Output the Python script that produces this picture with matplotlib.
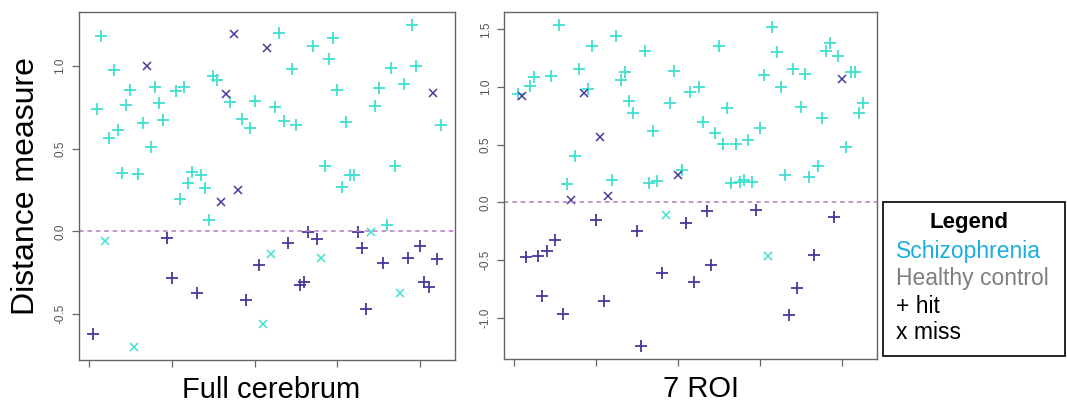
import matplotlib
matplotlib.use('Agg')
import matplotlib.pyplot as plt
from matplotlib.patches import Rectangle
import numpy as np

plt.rcParams['font.family'] = ['Liberation Sans', 'DejaVu Sans']
plt.rcParams['axes.unicode_minus'] = False

############# data #############
# full cerebrum, subjects 1..85
full_vals = [-0.622, 0.74, 1.18, -0.061, 0.567, 0.974, 0.615, 0.353, 0.766, 0.857,
             -0.70, 0.349, 0.657, 1.0, 0.51, 0.875, 0.776, 0.673, -0.039, -0.28,
             0.847, 0.196, 0.875, 0.29, 0.36, -0.374, 0.34, 0.26, 0.069, 0.937,
             0.913, 0.18, 0.83, 0.78, 1.19, 0.25, 0.68, -0.415, 0.627, 0.786,
             -0.203, -0.561, 1.107, -0.14, 0.752, 1.196, 0.667, -0.073, 0.984, 0.645,
             -0.323, -0.309, -0.002, 1.12, -0.047, -0.163, 0.397, 1.04, 1.17, 0.853,
             0.268, 0.66, 0.34, 0.34, -0.002, -0.10, -0.47, -0.002, 0.756, 0.867,
             -0.19, 0.037, 0.99, 0.397, -0.374, 0.889, -0.16, 1.248, 1.0, -0.089,
             -0.307, -0.337, 0.839, -0.165, 0.645]
full_group = ['C', 'S', 'S', 'S', 'S', 'S', 'S', 'S', 'S', 'S',
              'S', 'S', 'S', 'C', 'S', 'S', 'S', 'S', 'C', 'C',
              'S', 'S', 'S', 'S', 'S', 'C', 'S', 'S', 'S', 'S',
              'S', 'C', 'C', 'S', 'C', 'C', 'S', 'C', 'S', 'S',
              'C', 'S', 'C', 'S', 'S', 'S', 'S', 'C', 'S', 'S',
              'C', 'C', 'C', 'S', 'C', 'S', 'S', 'S', 'S', 'S',
              'S', 'S', 'S', 'S', 'C', 'C', 'C', 'S', 'S', 'S',
              'C', 'S', 'S', 'S', 'S', 'S', 'C', 'S', 'S', 'C',
              'C', 'C', 'C', 'C', 'S']
full_hit = [1, 1, 1, 0, 1, 1, 1, 1, 1, 1,
            0, 1, 1, 0, 1, 1, 1, 1, 1, 1,
            1, 1, 1, 1, 1, 1, 1, 1, 1, 1,
            1, 0, 0, 1, 0, 0, 1, 1, 1, 1,
            1, 0, 0, 0, 1, 1, 1, 1, 1, 1,
            1, 1, 1, 1, 1, 0, 1, 1, 1, 1,
            1, 1, 1, 1, 1, 1, 1, 0, 1, 1,
            1, 1, 1, 1, 0, 1, 1, 1, 1, 1,
            1, 1, 0, 1, 1]

# 7 ROI, subjects 1..85
roi_vals = [0.944, 0.924, -0.471, 1.014, 1.092, -0.465, -0.808, -0.419, 1.10, -0.328,
            1.54, -0.968, 0.159, 0.02, 0.405, 1.156, 0.947, 0.985, 1.361, -0.151,
            0.565, -0.852, 0.052, 0.191, 1.442, 1.066, 1.135, 0.88, 0.776, -0.25,
            -1.25, 1.309, 0.171, 0.617, 0.182, -0.613, -0.11, 0.866, 1.138, 0.235,
            0.284, -0.177, 0.959, -0.692, 1.005, 0.695, -0.078, -0.544, 0.602, 1.361,
            0.504, 0.822, 0.168, 0.51, 0.177, 0.197, 0.539, 0.18, -0.064, 0.646,
            1.106, -0.468, 1.523, 1.306, 0.999, 0.235, -0.974, 1.153, -0.747, 0.831,
            1.118, 0.22, -0.456, 0.313, 0.733, 1.309, 1.384, -0.128, 1.266, 1.074,
            0.484, 1.127, 1.127, 0.776, 0.863]
roi_group = ['S', 'C', 'C', 'S', 'S', 'C', 'C', 'C', 'S', 'C',
             'S', 'C', 'S', 'C', 'S', 'S', 'C', 'S', 'S', 'C',
             'C', 'C', 'C', 'S', 'S', 'S', 'S', 'S', 'S', 'C',
             'C', 'S', 'S', 'S', 'S', 'C', 'S', 'S', 'S', 'C',
             'S', 'C', 'S', 'C', 'S', 'S', 'C', 'C', 'S', 'S',
             'S', 'S', 'S', 'S', 'S', 'S', 'S', 'S', 'C', 'S',
             'S', 'S', 'S', 'S', 'S', 'S', 'C', 'S', 'C', 'S',
             'S', 'S', 'C', 'S', 'S', 'S', 'S', 'C', 'S', 'C',
             'S', 'S', 'S', 'S', 'S']
roi_hit = [1, 0, 1, 1, 1, 1, 1, 1, 1, 1,
           1, 1, 1, 0, 1, 1, 0, 1, 1, 1,
           0, 1, 0, 1, 1, 1, 1, 1, 1, 1,
           1, 1, 1, 1, 1, 1, 0, 1, 1, 0,
           1, 1, 1, 1, 1, 1, 1, 1, 1, 1,
           1, 1, 1, 1, 1, 1, 1, 1, 1, 1,
           1, 0, 1, 1, 1, 1, 1, 1, 1, 1,
           1, 1, 1, 1, 1, 1, 1, 1, 1, 0,
           1, 1, 1, 1, 1]

panel_labels = ['Full cerebrum', '7 ROI']
panel_yticks = [[-0.5, 0.0, 0.5, 1.0], [-1.0, -0.5, 0.0, 0.5, 1.0, 1.5]]
xticks = [0, 20, 40, 60, 80]

legend_lines = ['Schizophrenia', 'Healthy control', '+ hit', 'x miss']

############# styles #############
col_s = '#40E0D0'
col_c = '#443C9C'
frame_col = '#666666'

fig = plt.figure(figsize=(10.67, 4.03), dpi=100)
ax1 = fig.add_axes([0.0740, 0.1067, 0.3524, 0.8635])
ax2 = fig.add_axes([0.4724, 0.1084, 0.3492, 0.8618])

panels = [(ax1, full_vals, full_group, full_hit),
          (ax2, roi_vals, roi_group, roi_hit)]
label_x = [0.512, 0.529]

for k, (ax, vals, grp, hit) in enumerate(panels):
    vals = np.array(vals)
    grp = np.array(grp)
    hit = np.array(hit)
    idx = np.arange(1, len(vals) + 1)

    ##### points #####
    for g, c in (('S', col_s), ('C', col_c)):
        m = (grp == g) & (hit == 1)
        ax.plot(idx[m], vals[m], linestyle='none', marker='+', ms=8,
                mew=1.3, color=c)
        m = (grp == g) & (hit == 0)
        ax.plot(idx[m], vals[m], linestyle='none', marker='x', ms=5.5,
                mew=1.1, color=c)

    ##### zero line #####
    ax.axhline(0, color='#B47AC4', lw=1.1, ls=(0, (3, 2.5)))

    ax.margins(x=0.04, y=0.04)
    ax.set_xticks(xticks)
    ax.set_xticklabels([])
    ax.set_yticks(panel_yticks[k])
    ax.set_yticklabels(['%.1f' % v for v in panel_yticks[k]], rotation=90,
                       va='center', fontsize=8.5, color='#555555')
    ax.tick_params(axis='both', direction='out', length=5, width=0.9,
                   color=frame_col, pad=4)
    for sp in ax.spines.values():
        sp.set_color(frame_col)
        sp.set_linewidth(1.0)

    ax.text(label_x[k], -0.045, panel_labels[k], transform=ax.transAxes,
            ha='center', va='top', fontsize=21)

ax1.set_ylabel('Distance measure', fontsize=23, labelpad=10)

############# legend box #############
fig.patches.append(Rectangle((0.8276, 0.1166), 0.1705, 0.3822,
                             transform=fig.transFigure, fill=False,
                             edgecolor='black', lw=1.2))
fig.text(0.908, 0.449, 'Legend', ha='center', va='center', fontsize=16,
         fontweight='bold')
legend_cols = ['#1CAEDF', '#7F7F7F', 'black', 'black']
legend_y = [0.376, 0.310, 0.239, 0.174]
for t, c, yy in zip(legend_lines, legend_cols, legend_y):
    fig.text(0.8395, yy, t, ha='left', va='center', fontsize=16.5, color=c)

plt.savefig('out.png', dpi=100)
